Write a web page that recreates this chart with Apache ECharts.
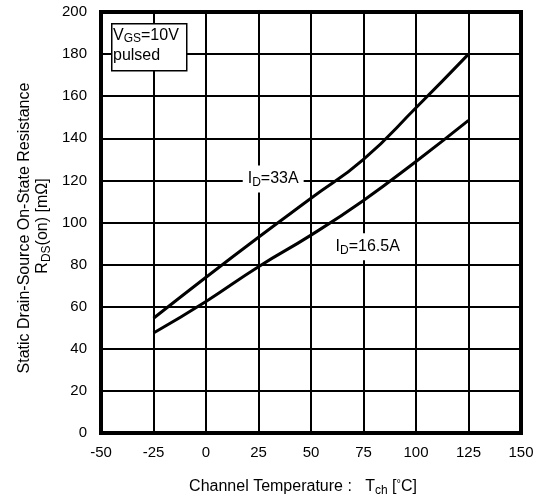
<!DOCTYPE html>
<html>
<head>
<meta charset="utf-8">
<script src="https://cdn.jsdelivr.net/npm/echarts@6/dist/echarts.min.js"></script>
<style>
html, body { margin: 0; padding: 0; background: #fff; }
#chart { width: 547px; height: 496px; }
</style>
</head>
<body>
<div id="chart"></div>
<script>
// temperature (°C) and on-resistance (mΩ)
var temps33 = [-25, 0, 25, 50, 75, 100, 125];
var rds33 = [54.5, 74, 93, 111.5, 130, 154.5, 180];
var temps16 = [-25, 0, 25, 50, 75, 100, 125];
var rds16 = [47.5, 62.5, 79, 94, 110.5, 129, 148.5];

var xTicks = [-50, -25, 0, 25, 50, 75, 100, 125, 150];
var yTicks = [0, 20, 40, 60, 80, 100, 120, 140, 160, 180, 200];

var curveLabels = [
    {name: '33A', at: [32, 120.7]},
    {name: '16.5A', at: [77, 88.5]}
];

var FONT = '"Liberation Sans", Arial, sans-serif';

function pairs(xs, ys) {
    return xs.map(function(x, i) { return [x, ys[i]]; });
}

var chart = echarts.init(document.getElementById('chart'));

var lineStyle = {color: '#000', width: 3};

chart.setOption({
    animation: false,
    backgroundColor: '#fff',
    grid: {
        left: 101, right: 26, top: 12, bottom: 63,
        show: true, borderColor: '#000', borderWidth: 4, backgroundColor: 'transparent', z: 3
    },
    xAxis: {
        type: 'value',
        min: xTicks[0], max: xTicks[xTicks.length - 1], interval: 25,
        axisLine: {show: false},
        axisTick: {show: false},
        axisLabel: {color: '#000', fontSize: 15, fontFamily: FONT, margin: 12},
        splitLine: {show: true, lineStyle: {color: '#000', width: 2}}
    },
    yAxis: {
        type: 'value',
        min: yTicks[0], max: yTicks[yTicks.length - 1], interval: 20,
        axisLine: {show: false},
        axisTick: {show: false},
        axisLabel: {color: '#000', fontSize: 15, fontFamily: FONT, margin: 14},
        splitLine: {show: true, lineStyle: {color: '#000', width: 2}}
    },
    series: [{
        name: 'ID=33A',
        type: 'line',
        smooth: 0.5,
        showSymbol: false,
        lineStyle: lineStyle,
        data: pairs(temps33, rds33)
    }, {
        name: 'ID=16.5A',
        type: 'line',
        smooth: 0.5,
        showSymbol: false,
        lineStyle: lineStyle,
        data: pairs(temps16, rds16)
    }]
});

var rich = {
    n: {fontSize: 16, fontFamily: FONT, fill: '#000'},
    s: {fontSize: 12, fontFamily: FONT, fill: '#000', verticalAlign: 'bottom', padding: [7, 0, 0, 0]},
    u: {fontSize: 11, fontFamily: FONT, fill: '#000', padding: [0, 0, 6, 0]}
};

var graphics = [];

curveLabels.forEach(function(c) {
    var p = chart.convertToPixel({gridIndex: 0}, c.at);
    graphics.push({
        type: 'text', x: p[0], y: p[1], z: 10,
        style: {
            text: '{n|I}{s|D}{n|=' + c.name + '}',
            rich: rich, align: 'center', verticalAlign: 'middle',
            backgroundColor: '#fff', padding: [4, 5, 4, 5]
        }
    });
});

// condition box
graphics.push({
    type: 'rect', left: 111, top: 23, z: 10,
    shape: {width: 75, height: 47},
    style: {fill: '#fff', stroke: '#000', lineWidth: 1.5}
});
graphics.push({
    type: 'text', left: 113, top: 26, z: 11,
    style: {
        text: '{n|V}{s|GS}{n|=10V}\n{n|pulsed}',
        rich: {
            n: {fontSize: 16, fontFamily: FONT, fill: '#000', lineHeight: 20},
            s: {fontSize: 12, fontFamily: FONT, fill: '#000', lineHeight: 20, padding: [7, 0, 0, 0]}
        }
    }
});

// axis titles
graphics.push({
    type: 'text', x: 303, y: 487, z: 10,
    style: {
        text: '{n|Channel Temperature :   T}{s|ch}{n| [}{u|°}{n|C]}',
        rich: rich, align: 'center', verticalAlign: 'middle'
    }
});
graphics.push({
    type: 'text', x: 25, y: 228, rotation: Math.PI / 2, z: 10,
    style: {
        text: 'Static Drain-Source On-State Resistance',
        fontSize: 16, fontFamily: FONT, fill: '#000',
        align: 'center', verticalAlign: 'middle'
    }
});
graphics.push({
    type: 'text', x: 43, y: 226, rotation: Math.PI / 2, z: 10,
    style: {
        text: '{n|R}{s|DS}{n|(on) [mΩ]}',
        rich: rich, align: 'center', verticalAlign: 'middle'
    }
});

chart.setOption({graphic: graphics});
</script>
</body>
</html>
